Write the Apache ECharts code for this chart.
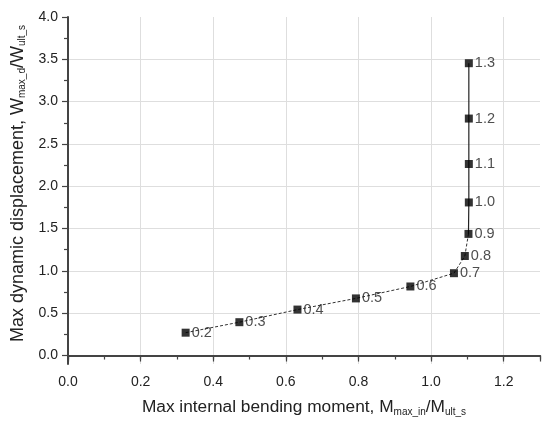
<!DOCTYPE html>
<html>
<head>
<meta charset="utf-8">
<script src="https://cdn.jsdelivr.net/npm/echarts@6/dist/echarts.min.js"></script>
<style>
  body { margin: 0; background: #fff; }
  #chart { width: 550px; height: 430px; }
</style>
</head>
<body>
<div id="chart"></div>
<script>
// load level labels next to each point
const levels = ['0.2', '0.3', '0.4', '0.5', '0.6', '0.7', '0.8', '0.9', '1.0', '1.1', '1.2', '1.3']
// Mmax_in / Mult_s
const momentRatio = [0.324, 0.472, 0.632, 0.793, 0.943, 1.063, 1.093, 1.103, 1.104, 1.104, 1.104, 1.104]
// Wmax_d / Wult_s
const dispRatio = [0.27, 0.394, 0.543, 0.675, 0.816, 0.973, 1.176, 1.437, 1.809, 2.263, 2.80, 3.454]
// y ticks (axis starts a bit below zero)
const yMajorTicks = [0, 0.5, 1.0, 1.5, 2.0, 2.5, 3.0, 3.5, 4.0]
const yMinorTicks = [0.25, 0.75, 1.25, 1.75, 2.25, 2.75, 3.25, 3.75]

const font = 'Liberation Sans, Arial, sans-serif'
const points = momentRatio.map((x, i) => [x, dispRatio[i], levels[i]])
const lowerPart = points.slice(0, 8)
const upperPart = points.slice(7)

const richFor = (size) => ({
  base: { fontSize: size, lineHeight: 18, color: '#222', fontFamily: font },
  sub: { fontSize: 10, lineHeight: 10, padding: [10, 0, 0, 0], color: '#222', fontFamily: font }
})

const chart = echarts.init(document.getElementById('chart'))
chart.setOption({
  animation: false,
  backgroundColor: '#fff',
  grid: { left: 68, right: 10, top: 17, bottom: 66, containLabel: false, outerBoundsMode: 'none' },
  xAxis: [{
    type: 'value',
    min: 0,
    max: 1.3,
    interval: 0.2,
    name: '{base|Max internal bending moment, M}{sub|max_in}{base|/M}{sub|ult_s}',
    nameLocation: 'middle',
    nameGap: 34,
    nameTextStyle: { rich: richFor(17.3) },
    axisLine: { show: true, lineStyle: { color: '#444', width: 2 } },
    axisTick: { show: true, length: 6, lineStyle: { color: '#444', width: 1.2 } },
    axisLabel: {
      margin: 11, fontSize: 14, color: '#222', fontFamily: font,
      formatter: v => (Math.abs(v / 0.2 - Math.round(v / 0.2)) < 1e-6 ? v.toFixed(1) : '')
    },
    splitLine: { show: true, showMinLine: false, showMaxLine: false, lineStyle: { color: '#dedede', width: 1 } }
  }, {
    // minor ticks
    type: 'value',
    position: 'bottom',
    min: 0,
    max: 1.3,
    interval: 0.1,
    axisLine: { show: false },
    axisTick: { show: true, length: 4, lineStyle: { color: '#444', width: 1.2 } },
    axisLabel: { show: false },
    splitLine: { show: false }
  }],
  yAxis: [{
    type: 'value',
    min: -0.1,
    max: 4,
    name: '{base|Max dynamic displacement, W}{sub|max_d}{base|/W}{sub|ult_s}',
    nameLocation: 'middle',
    nameGap: 37,
    nameTextStyle: { rich: richFor(18), padding: [0, 0, 0, 14] },
    axisLine: { show: true, lineStyle: { color: '#444', width: 2 } },
    axisTick: { show: true, length: 6, customValues: yMajorTicks, lineStyle: { color: '#444', width: 1.2 } },
    axisLabel: {
      margin: 10, fontSize: 14, color: '#222', fontFamily: font,
      customValues: yMajorTicks,
      formatter: v => v.toFixed(1)
    },
    splitLine: { show: true, showMinLine: true, showMaxLine: false, lineStyle: { color: '#dedede', width: 1 } }
  }, {
    type: 'value',
    position: 'left',
    min: -0.1,
    max: 4,
    axisLine: { show: false },
    axisTick: { show: true, length: 4, customValues: yMinorTicks, lineStyle: { color: '#444', width: 1.2 } },
    axisLabel: { show: false },
    splitLine: { show: false }
  }],
  series: [{
    type: 'line',
    data: lowerPart,
    symbol: 'none',
    lineStyle: { color: '#333', width: 1, type: [3, 2] },
    z: 2
  }, {
    type: 'line',
    data: upperPart,
    symbol: 'none',
    lineStyle: { color: '#222', width: 1.2 },
    z: 2
  }, {
    type: 'scatter',
    data: points,
    symbol: 'rect',
    symbolSize: 8,
    itemStyle: { color: '#000' },
    label: {
      show: true,
      position: 'right',
      distance: 2,
      fontSize: 14.5,
      color: '#222',
      fontFamily: font,
      formatter: p => p.value[2]
    },
    z: 3
  }]
})
</script>
</body>
</html>
